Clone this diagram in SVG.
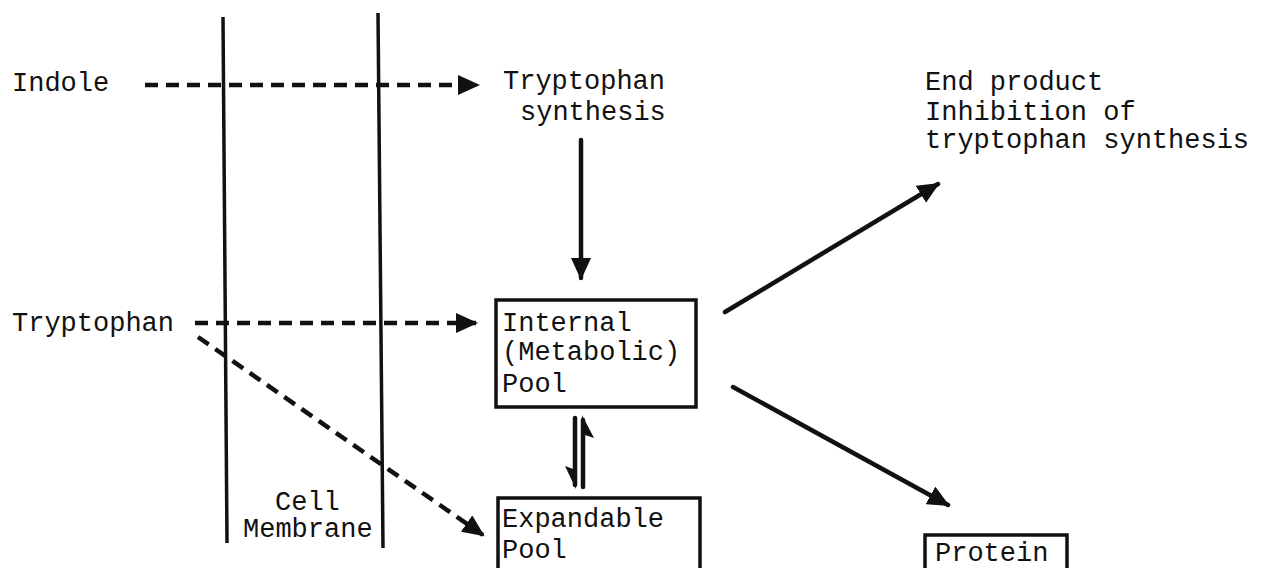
<svg xmlns="http://www.w3.org/2000/svg" width="1268" height="568" viewBox="0 0 1268 568">
<style>
text{font-family:"Liberation Mono","DejaVu Sans Mono",monospace;font-size:27px;fill:#111}
.solid{stroke:#111;stroke-width:4.5;fill:none;stroke-linecap:round}
.dash{stroke:#111;stroke-width:4.5;fill:none;stroke-dasharray:13 8}
.mem{stroke:#111;stroke-width:3.5;fill:none}
.box{stroke:#111;stroke-width:3.5;fill:none}
</style>
<defs>
<marker id="ah" markerUnits="userSpaceOnUse" markerWidth="24" markerHeight="20" refX="20" refY="10" orient="auto">
<path d="M0,0 L22,10 L0,20 Z" fill="#111"/>
</marker>
</defs>
<rect width="1268" height="568" fill="#fff"/>
<g id="membrane">
<line class="mem" x1="223" y1="17" x2="227" y2="543"/>
<line class="mem" x1="378" y1="13" x2="383" y2="548"/>
<text x="275" y="510">Cell</text>
<text x="243" y="537">Membrane</text>
</g>
<g id="indole"><text x="12" y="91">Indole</text></g>
<g id="tryptophan"><text x="12" y="331">Tryptophan</text></g>
<g id="synthesis"><text x="503" y="89">Tryptophan</text><text x="520" y="120">synthesis</text></g>
<g id="endproduct"><text x="925" y="90">End product</text><text x="925" y="120">Inhibition of</text><text x="925" y="148">tryptophan synthesis</text></g>
<g id="internal"><path class="box" d="M496,300 H696 V407 H496 Z"/><text x="502" y="331">Internal</text><text x="502" y="360">(Metabolic)</text><text x="502" y="392">Pool</text></g>
<g id="expandable"><path class="box" d="M498,568 V498 H700 V568"/><text x="502" y="527">Expandable</text><text x="502" y="558">Pool</text></g>
<g id="protein"><path class="box" d="M925,568 V535 H1067 V568"/><text x="935" y="561">Protein</text></g>
<g id="connectors">
<line class="dash" x1="145" y1="85" x2="478" y2="85" marker-end="url(#ah)"/>
<line class="dash" x1="195" y1="323" x2="476" y2="323" marker-end="url(#ah)"/>
<line class="dash" x1="198" y1="337" x2="483" y2="535" marker-end="url(#ah)"/>
<line class="solid" x1="581" y1="140" x2="581" y2="278" marker-end="url(#ah)"/>
<line class="solid" x1="725" y1="312" x2="938" y2="184" marker-end="url(#ah)"/>
<line class="solid" x1="733" y1="387" x2="948" y2="505" marker-end="url(#ah)"/>
<path class="solid" d="M575,418 V485"/>
<path d="M576,489 L565,466 L576,470 Z" fill="#111"/>
<path class="solid" d="M583,487 V420"/>
<path d="M582,415 L594,438 L582,434 Z" fill="#111"/>
</g>
</svg>
